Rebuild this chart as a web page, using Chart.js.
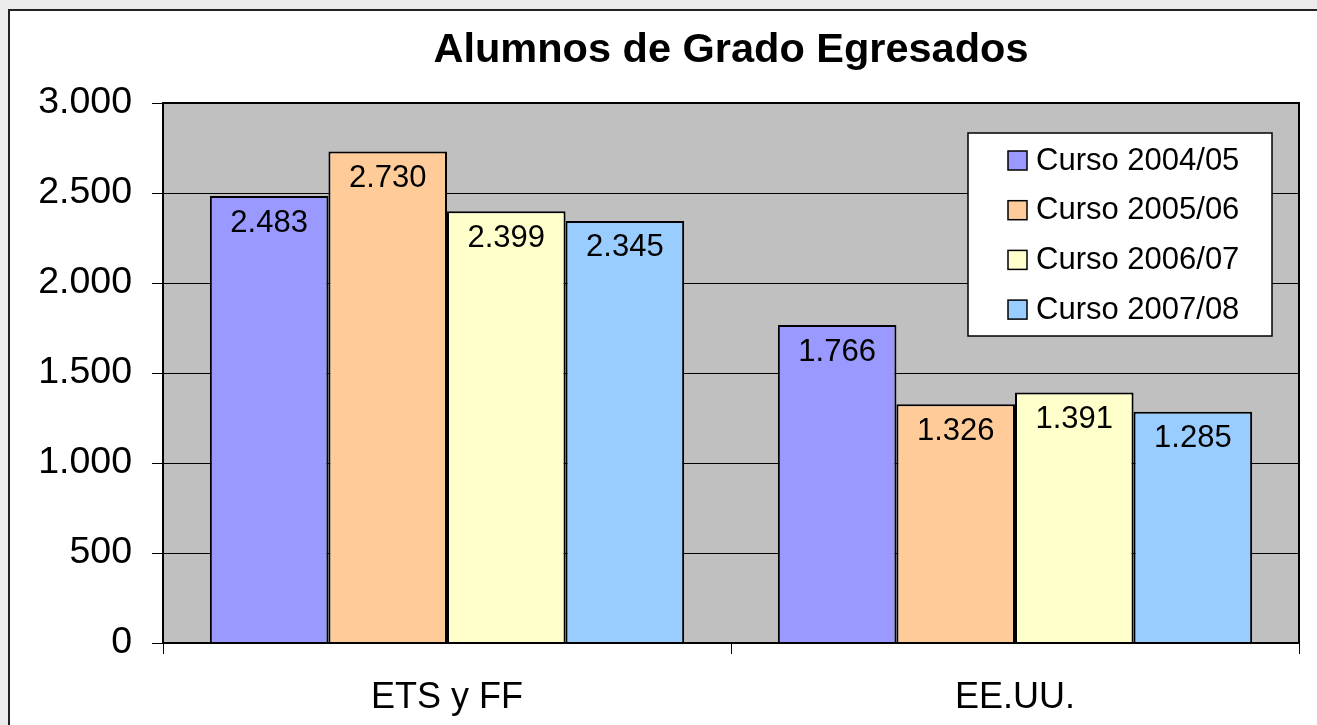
<!DOCTYPE html>
<html>
<head>
<meta charset="utf-8">
<script src="https://cdn.jsdelivr.net/npm/chart.js@4/dist/chart.umd.min.js"></script>
<style>
  html, body { margin: 0; padding: 0; background: #ebebeb; }
  #wrap { width: 1317px; height: 725px; }
</style>
</head>
<body>
<div id="wrap"><canvas id="chart" width="1317" height="725"></canvas></div>
<script>
// chart data
const categories = ['ETS y FF', 'EE.UU.'];
const seriesNames = ['Curso 2004/05', 'Curso 2005/06', 'Curso 2006/07', 'Curso 2007/08'];
const curso0405 = [2483, 1766];
const curso0506 = [2730, 1326];
const curso0607 = [2399, 1391];
const curso0708 = [2345, 1285];
const yTicks = [0, 500, 1000, 1500, 2000, 2500, 3000];

const colors = ['#9999ff', '#ffcc99', '#ffffcc', '#99ccff'];
const FONT = '"Liberation Sans", Arial, sans-serif';

function fmt(n) {
  return String(n).replace(/\B(?=(\d{3})+(?!\d))/g, '.');
}

// background, frame and plot area fill
const framePlugin = {
  id: 'frame',
  beforeDraw(chart) {
    const ctx = chart.ctx;
    const a = chart.chartArea;
    ctx.save();
    ctx.fillStyle = '#ebebeb';
    ctx.fillRect(0, 0, chart.width, chart.height);
    ctx.fillStyle = '#ffffff';
    ctx.fillRect(8, 9, chart.width, chart.height);
    ctx.strokeStyle = '#222';
    ctx.lineWidth = 2;
    ctx.beginPath();
    ctx.moveTo(9, chart.height);
    ctx.lineTo(9, 10);
    ctx.lineTo(chart.width, 10);
    ctx.stroke();
    ctx.fillStyle = '#c0c0c0';
    ctx.fillRect(a.left, a.top, a.right - a.left, a.bottom - a.top);
    ctx.restore();
  },
  afterDraw(chart) {
    const ctx = chart.ctx;
    const a = chart.chartArea;
    ctx.save();
    ctx.strokeStyle = '#000';
    ctx.lineWidth = 2;
    ctx.strokeRect(a.left, a.top, a.right - a.left, a.bottom - a.top);
    // title
    ctx.fillStyle = '#000';
    ctx.font = 'bold 41.5px ' + FONT;
    ctx.textAlign = 'center';
    ctx.textBaseline = 'middle';
    ctx.fillText('Alumnos de Grado Egresados', (a.left + a.right) / 2, 51);
    // legend
    const lx = 968, ly = 133, lw = 304, lh = 203;
    ctx.fillStyle = '#fff';
    ctx.fillRect(lx, ly, lw, lh);
    ctx.lineWidth = 1.5;
    ctx.strokeStyle = '#000';
    ctx.strokeRect(lx, ly, lw, lh);
    ctx.font = '31px ' + FONT;
    ctx.textAlign = 'left';
    chart.data.datasets.forEach((ds, i) => {
      const cy = 160 + i * 49.7;
      ctx.fillStyle = ds.backgroundColor;
      ctx.fillRect(1008, cy - 9, 19, 19);
      ctx.strokeRect(1008, cy - 9, 19, 19);
      ctx.fillStyle = '#000';
      ctx.fillText(ds.label, 1036, cy + 1);
    });
    ctx.restore();
  }
};

// value labels inside top of bars
const labelPlugin = {
  id: 'barLabels',
  afterDatasetsDraw(chart) {
    const ctx = chart.ctx;
    ctx.save();
    ctx.fillStyle = '#000';
    ctx.font = '31px ' + FONT;
    ctx.textAlign = 'center';
    ctx.textBaseline = 'middle';
    chart.data.datasets.forEach((ds, i) => {
      chart.getDatasetMeta(i).data.forEach((bar, j) => {
        ctx.fillText(fmt(ds.data[j]), bar.x, bar.y + 27);
      });
    });
    ctx.restore();
  }
};

const seriesData = [curso0405, curso0506, curso0607, curso0708];

new Chart(document.getElementById('chart'), {
  type: 'bar',
  data: {
    labels: categories,
    datasets: seriesData.map((d, i) => ({
      label: seriesNames[i],
      data: d,
      backgroundColor: colors[i],
      borderColor: '#000',
      borderWidth: 2,
      categoryPercentage: 0.835,
      barPercentage: 1.0
    }))
  },
  options: {
    responsive: false,
    animation: false,
    layout: { padding: { left: 0, right: 18, top: 103, bottom: 0 } },
    plugins: {
      legend: { display: false },
      title: { display: false },
      tooltip: { enabled: false }
    },
    scales: {
      x: {
        afterFit(scale) { scale.height = 82; },
        grid: {
          offset: true,
          drawOnChartArea: false,
          drawTicks: true,
          tickLength: 11,
          color: '#000',
          lineWidth: 1
        },
        border: { display: false },
        ticks: {
          color: '#000',
          padding: 22,
          font: { family: FONT, size: 36 }
        }
      },
      y: {
        min: 0,
        max: 3000,
        afterFit(scale) { scale.width = 163; },
        afterBuildTicks(scale) { scale.ticks = yTicks.map(v => ({ value: v })); },
        grid: {
          color: '#000',
          lineWidth: 1,
          tickLength: 11
        },
        border: { display: false },
        ticks: {
          color: '#000',
          padding: 20,
          font: { family: FONT, size: 37.5 },
          callback: v => fmt(v)
        }
      }
    }
  },
  plugins: [framePlugin, labelPlugin]
});
</script>
</body>
</html>
